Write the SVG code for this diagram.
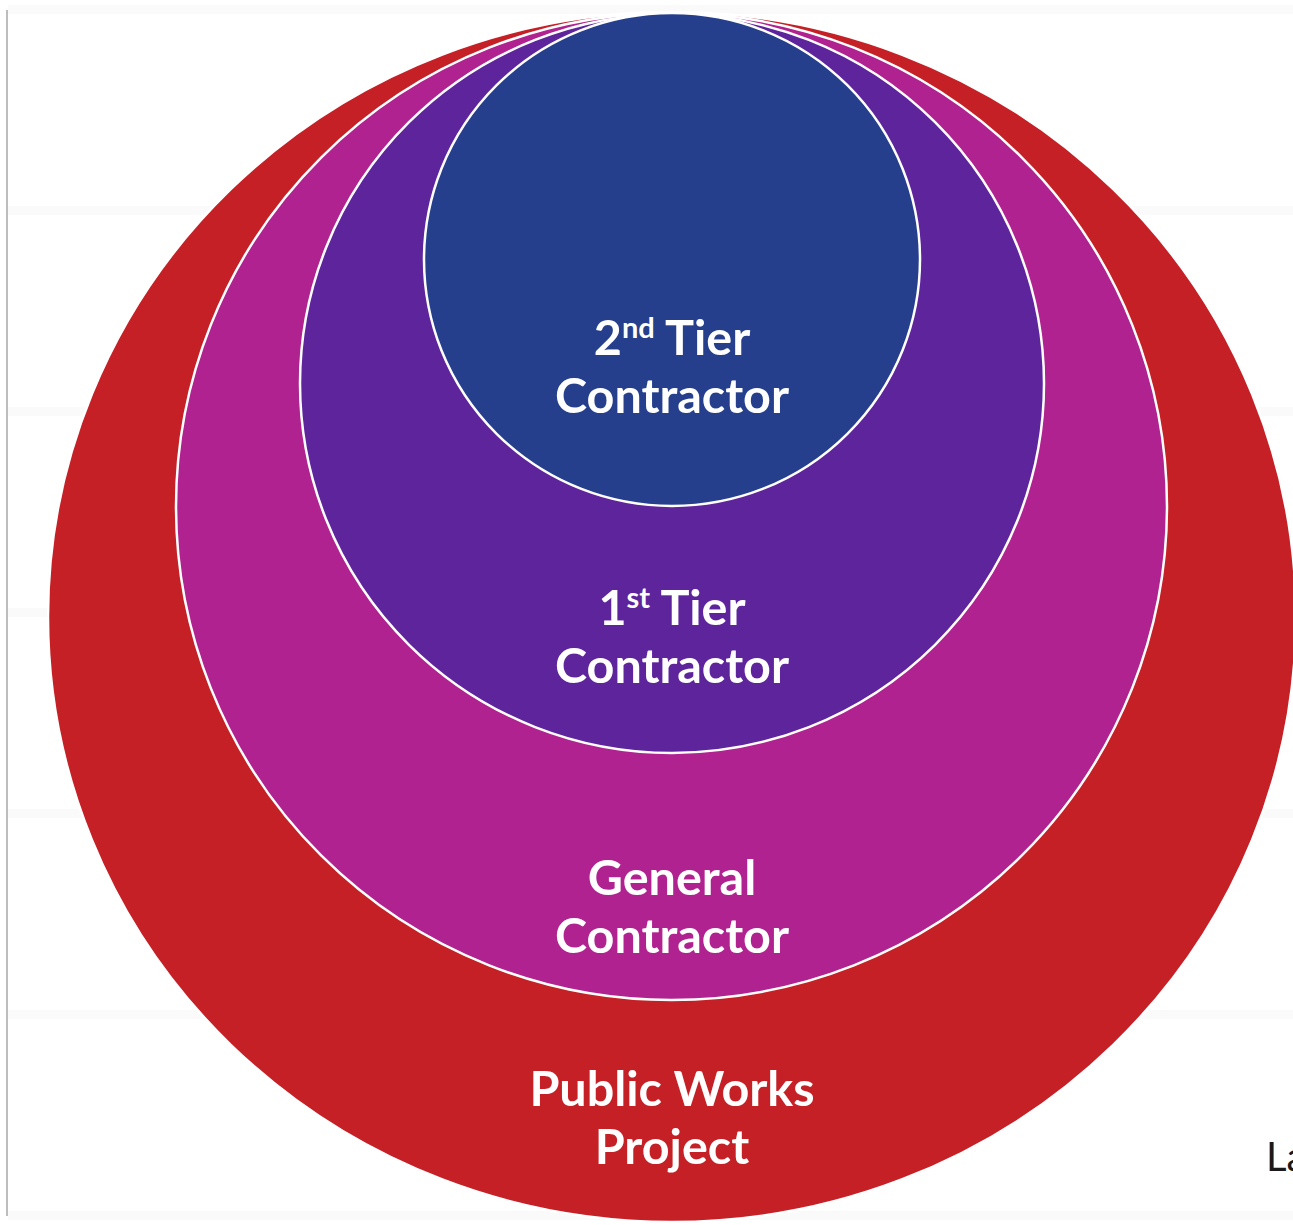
<svg xmlns="http://www.w3.org/2000/svg" width="1293" height="1225" viewBox="0 0 1293 1225">
<style>
.band{fill:#fafafa}
.ring{stroke:#ffffff;stroke-width:2.5}
.lbl{font-family:Lato,"Open Sans",sans-serif;font-weight:bold;font-size:48.5px;fill:#ffffff;text-anchor:middle}
.sup{font-size:29px}
</style>
<rect width="1293" height="1225" fill="#ffffff"/>
<g id="grid">
<rect class="band" x="8" y="5" width="1285" height="9"/>
<rect class="band" x="8" y="206" width="1285" height="9"/>
<rect class="band" x="8" y="407" width="1285" height="9"/>
<rect class="band" x="8" y="608" width="1285" height="9"/>
<rect class="band" x="8" y="809" width="1285" height="9"/>
<rect class="band" x="8" y="1010" width="1285" height="9"/>
<rect class="band" x="8" y="1211" width="1285" height="9"/>
<line x1="7" y1="10" x2="7" y2="1216" stroke="#bdbdbd" stroke-width="2"/>
</g>
<g id="public-works">
<ellipse class="ring" cx="672" cy="617" rx="624" ry="605" fill="#c42026"/>
<text class="lbl" x="672" y="1106">Public Works</text>
<text class="lbl" x="672" y="1164">Project</text>
</g>
<g id="general-contractor">
<ellipse class="ring" cx="671.5" cy="506.5" rx="495.5" ry="493.5" fill="#b02290"/>
<text class="lbl" x="672" y="895">General</text>
<text class="lbl" x="672" y="953">Contractor</text>
</g>
<g id="first-tier">
<ellipse class="ring" cx="672" cy="383.5" rx="372" ry="369.5" fill="#5e249c"/>
<text class="lbl" x="672" y="625">1<tspan class="sup" dy="-17">st</tspan><tspan dy="17"> Tier</tspan></text>
<text class="lbl" x="672" y="683">Contractor</text>
</g>
<g id="second-tier">
<ellipse class="ring" cx="672" cy="259.5" rx="248" ry="246.5" fill="#253f8c"/>
<text class="lbl" x="672" y="355">2<tspan class="sup" dy="-17">nd</tspan><tspan dy="17"> Tier</tspan></text>
<text class="lbl" x="672" y="413">Contractor</text>
</g>
<g id="connectors"></g>
<text x="1266" y="1171" font-family="Lato,'Open Sans',sans-serif" font-size="40" fill="#1a1a1a">La</text>
</svg>
